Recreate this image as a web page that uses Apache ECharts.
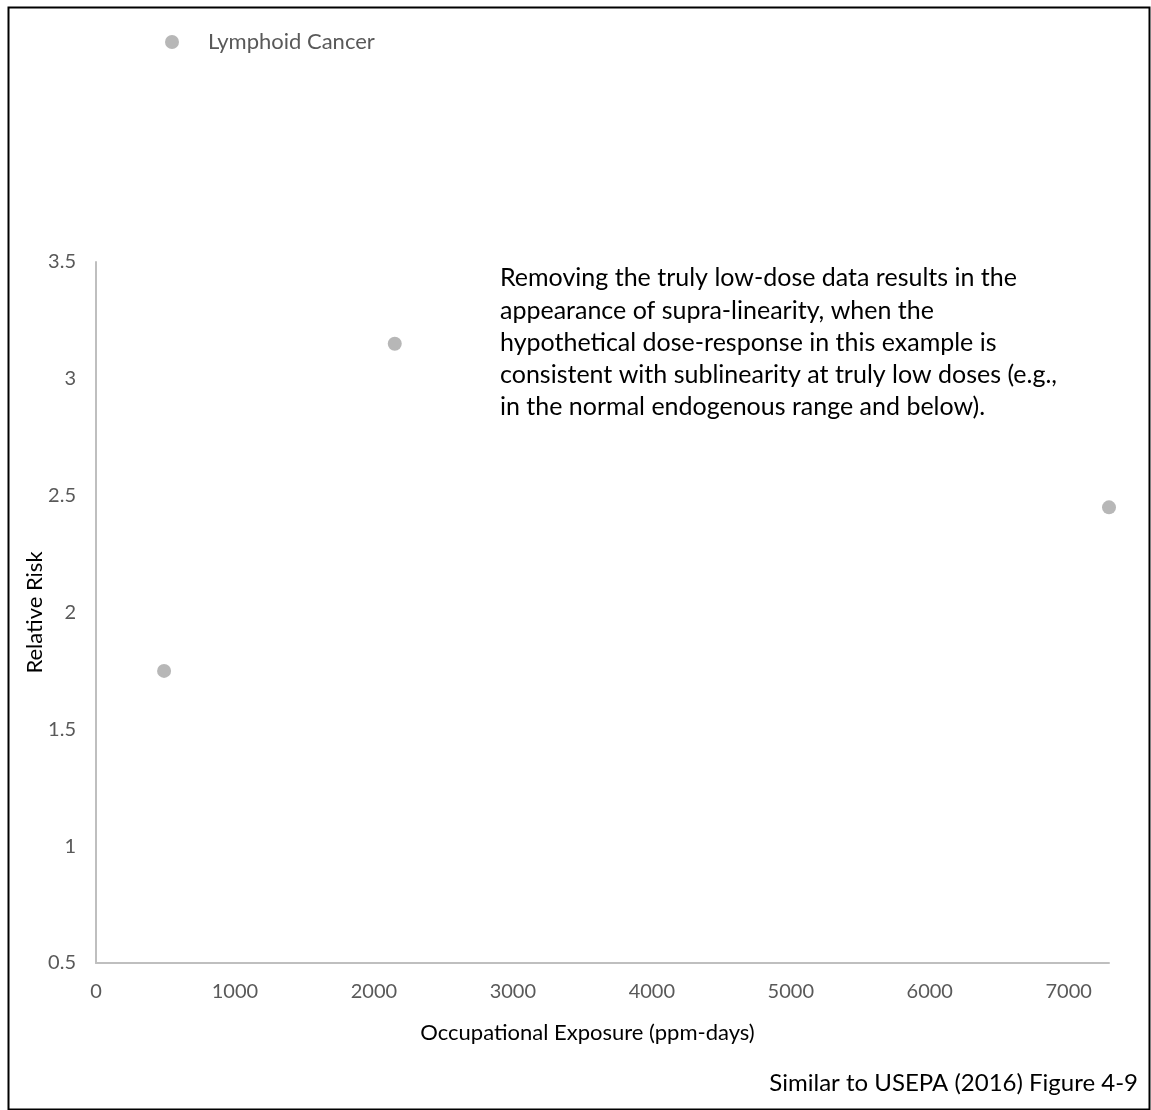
<!DOCTYPE html>
<html>
<head>
<meta charset="utf-8">
<script src="https://cdn.jsdelivr.net/npm/echarts@6/dist/echarts.min.js"></script>
<style>
html,body{margin:0;padding:0;background:#fff;}
#chart{width:1151px;height:1110px;}
</style>
</head>
<body>
<div id="chart"></div>
<script>
const seriesName = 'Lymphoid Cancer';
const exposure = [490, 2150, 7290];
const relativeRisk = [1.75, 3.15, 2.45];
const yTicks = [0.5, 1, 1.5, 2, 2.5, 3, 3.5];
const xTicks = [0, 1000, 2000, 3000, 4000, 5000, 6000, 7000];
const xAxisTitle = 'Occupational Exposure (ppm-days)';
const yAxisTitle = 'Relative Risk';
const annotation = [
  'Removing the truly low-dose data results in the',
  'appearance of supra-linearity, when the',
  'hypothetical dose-response in this example is',
  'consistent with sublinearity at truly low doses (e.g.,',
  'in the normal endogenous range and below).'
];
const sourceNote = 'Similar to USEPA (2016) Figure 4-9';

const points = exposure.map((x, i) => [x, relativeRisk[i]]);
const font = 'Lato, "Open Sans", sans-serif';

const chart = echarts.init(document.getElementById('chart'));
chart.setOption({
  animation: false,
  backgroundColor: '#fff',
  grid: { left: 96, right: 42, top: 262, bottom: 147, containLabel: false },
  legend: {
    data: [seriesName],
    left: 160, top: 26,
    icon: 'circle', itemWidth: 14, itemHeight: 14, itemGap: 10,
    textStyle: { fontFamily: font, fontSize: 22, color: '#595959', padding: [0, 0, 0, 24] }
  },
  xAxis: {
    type: 'value', min: xTicks[0], max: 7290, interval: 1000,
    name: xAxisTitle, nameLocation: 'middle', nameGap: 59, nameMoveOverlap: false,
    nameTextStyle: { fontFamily: font, fontSize: 22, color: '#000', padding: [0, 30, 0, 0] },
    axisLine: { show: true, lineStyle: { color: '#bfbfbf', width: 2 } },
    axisTick: { show: false },
    splitLine: { show: false },
    axisLabel: {
      margin: 19, fontFamily: font, fontSize: 20, color: '#595959', showMaxLabel: false,
      formatter: v => xTicks.includes(v) ? String(v) : ''
    }
  },
  yAxis: {
    type: 'value', min: yTicks[0], max: yTicks[yTicks.length - 1], interval: 0.5,
    name: yAxisTitle, nameLocation: 'middle', nameGap: 50, nameMoveOverlap: false,
    nameTextStyle: { fontFamily: font, fontSize: 22, color: '#000' },
    axisLine: { show: true, lineStyle: { color: '#bfbfbf', width: 2 } },
    axisTick: { show: false },
    splitLine: { show: false },
    axisLabel: { margin: 20, fontFamily: font, fontSize: 20, color: '#595959' }
  },
  series: [{
    name: seriesName, type: 'scatter', data: points,
    symbol: 'circle', symbolSize: 14,
    itemStyle: { color: '#a5a5a5' }
  }],
  graphic: [
    {
      type: 'rect', left: 6, top: 5, z: 100, silent: true,
      shape: { width: 1141, height: 1102 },
      style: { fill: 'none', stroke: '#000', lineWidth: 2 }
    },
    {
      type: 'text', left: 500, top: 262, z: 100,
      style: { text: annotation.join('\n'), fontFamily: font, fontSize: 25, lineHeight: 32.3, fill: '#000' }
    },
    {
      type: 'text', right: 13, top: 1071, z: 100,
      style: { text: sourceNote, fontFamily: font, fontSize: 24, fill: '#000' }
    }
  ]
});
</script>
</body>
</html>
